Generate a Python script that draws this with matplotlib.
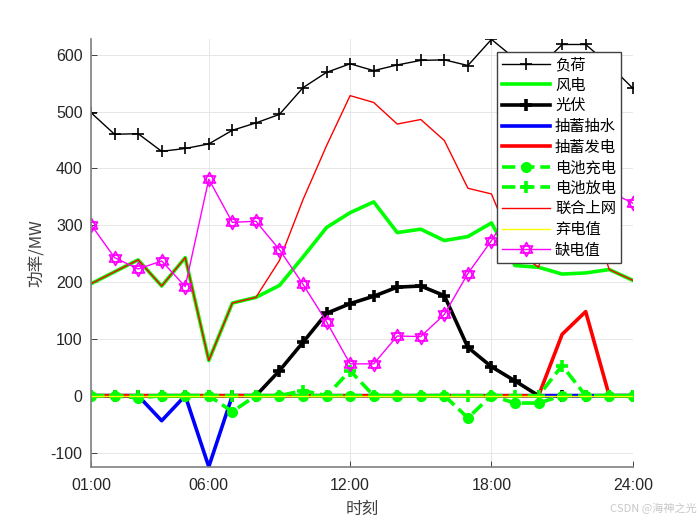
import numpy as np
import matplotlib
matplotlib.use("Agg")
import matplotlib.pyplot as plt
from matplotlib.path import Path

plt.rcParams['font.family'] = ['Liberation Sans', 'Noto Sans CJK SC']
plt.rcParams['axes.unicode_minus'] = False

hours = np.arange(1, 25)
tick_pos = [1, 6, 12, 18, 24]
tick_lbl = ["01:00", "06:00", "12:00", "18:00", "24:00"]

# dane (MW)
fuhe = [498, 460, 461, 430, 435, 443, 467, 480, 495, 542, 569, 584,
        572, 582, 590, 591, 581, 627, 593, 577, 618, 618, 582, 541]
fengdian = [197, 218, 239, 193, 243, 62, 163, 173, 194, 244, 296, 322,
            341, 287, 293, 273, 280, 304, 229, 226, 214, 216, 222, 203]
guangfu = [0, 0, 0, 0, 0, 0, 0, 0, 44, 94, 145, 162,
           175, 191, 193, 176, 85, 51, 26, 0, 0, 0, 0, 0]
chouxu_choushui = [0, 0, 0, -44, 0, -125, 0, 0, 0, 0, 0, 0,
                   0, 0, 0, 0, 0, 0, 0, 0, 0, 0, 0, 0]
chouxu_fadian = [0, 0, 0, 0, 0, 0, 0, 0, 0, 0, 0, 0,
                 0, 0, 0, 0, 0, 0, 0, 0, 108, 148, 0, 0]
dianchi_chong = [0, 0, -4, 0, 0, 0, -28, 0, 0, 0, 0, 0,
                 0, 0, 0, 0, -39, 0, -13, -13, 0, 0, 0, 0]
dianchi_fang = [0, 0, 0, 0, 0, 0, 0, 0, 0, 9, 0, 44,
                0, 0, 0, 0, 0, 0, 0, 0, 53, 0, 0, 0]
lianhe = [197, 218, 239, 193, 243, 62, 163, 173, 238, 345, 440, 528,
          516, 478, 486, 449, 365, 355, 255, 226, 358, 348, 222, 203]
qidian = [0] * 24
quedian = [301, 243, 223, 237, 192, 381, 305, 307, 257, 196, 130, 56,
           56, 105, 104, 143, 215, 273, 338, 351, 260, 270, 359, 339]

# marker "hexagram" jak w MATLABie (dwa trojkaty)
c, s = 0.866, 0.5
verts = [(0, 1), (-c, -s), (c, -s), (0, 1),
         (0, -1), (c, s), (-c, s), (0, -1)]
codes = [Path.MOVETO, Path.LINETO, Path.LINETO, Path.CLOSEPOLY] * 2
hexagram = Path(verts, codes)

fig = plt.figure(figsize=(7, 5.25), dpi=100)
ax = fig.add_axes([0.13, 0.111, 0.774, 0.814])

ax.plot(hours, fuhe, color='k', lw=1, marker='+', ms=9, mew=1.2, label='负荷')
ax.plot(hours, fengdian, color='#00ff00', lw=2.6, label='风电')
ax.plot(hours, guangfu, color='k', lw=2.6, marker='+', ms=8, mew=2.6, label='光伏')
ax.plot(hours, chouxu_choushui, color='#0000ff', lw=2.6, label='抽蓄抽水')
ax.plot(hours, chouxu_fadian, color='#ff0000', lw=2.6, label='抽蓄发电')
ax.plot(hours, dianchi_chong, color='#00ff00', lw=2.6, ls='--', marker='o', ms=7,
        label='电池充电')
ax.plot(hours, dianchi_fang, color='#00ff00', lw=2.6, ls='--', marker='+', ms=8,
        mew=2.6, label='电池放电')
ax.plot(hours, lianhe, color='#ff0000', lw=1, label='联合上网')
ax.plot(hours, qidian, color='#ffff00', lw=1, label='弃电值')
ax.plot(hours, quedian, color='#ff00ff', lw=1, marker=hexagram, ms=10, mew=1.2,
        mfc='none', label='缺电值')

ax.set_xlim(1, 24)
ax.set_ylim(-125, 627)
ax.set_xticks(tick_pos)
ax.set_xticklabels(tick_lbl)
ax.set_yticks(np.arange(-100, 601, 100))
ax.tick_params(direction='in', length=4, width=0.6, colors='#262626',
               labelsize=11.5, pad=6)
ax.tick_params(axis='x', pad=8)
for side in ['top', 'right']:
    ax.spines[side].set_visible(False)
for side in ['left', 'bottom']:
    ax.spines[side].set_color('#808080')
    ax.spines[side].set_linewidth(1.2)
ax.grid(True, color='#e3e3e3', lw=0.6)
ax.set_axisbelow(True)

ax.set_xlabel('时刻', fontsize=12, color='#404040', family=['Noto Sans CJK SC'],
              labelpad=6)
ax.set_ylabel('功率/MW', fontsize=12, color='#404040', family=['Noto Sans CJK SC'])

leg = ax.legend(loc='upper right', prop={'family': 'Noto Sans CJK SC', 'size': 11},
                frameon=True, fancybox=False, framealpha=1, edgecolor='#404040',
                handlelength=3.2, handletextpad=0.3, labelspacing=0.235,
                borderaxespad=0.8, borderpad=0.3)
leg.get_frame().set_linewidth(1.0)

fig.text(0.995, 0.02, 'CSDN @海神之光', ha='right', va='bottom', fontsize=8,
         color='#c8c8c8', family=['Noto Sans CJK SC'])

plt.savefig('out.png', dpi=100)
plt.close()
